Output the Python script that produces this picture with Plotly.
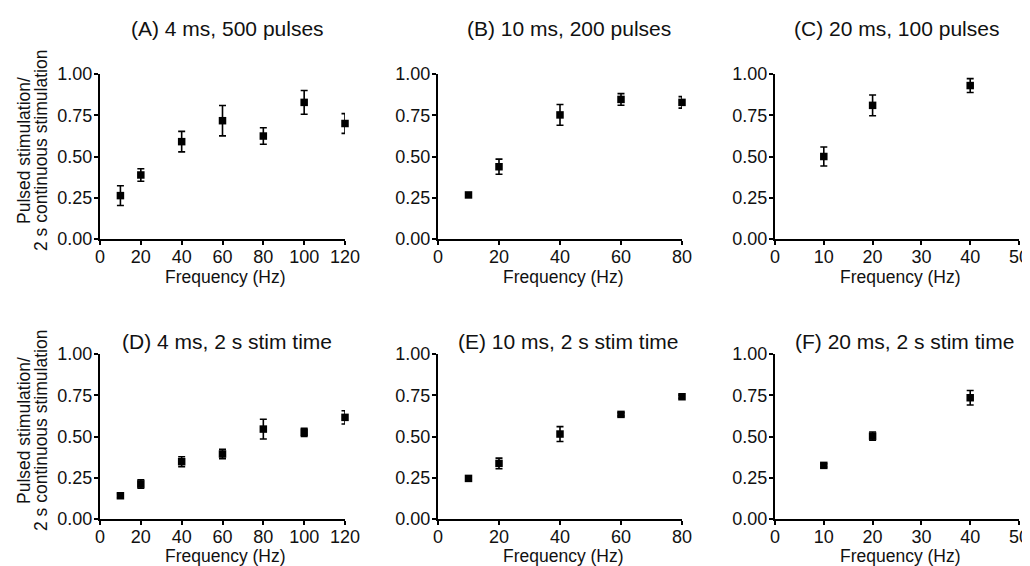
import plotly.graph_objects as go

# The page body has an 8px margin, so the figure is made smaller and
# every reference pixel position is shifted by OFF.
OFF = 8
W, H = 1030 - OFF, 566 - OFF

freq_A = [10, 20, 40, 60, 80, 100, 120]
val_A = [0.263, 0.388, 0.59, 0.717, 0.624, 0.828, 0.70]
err_A = [0.06, 0.038, 0.062, 0.092, 0.05, 0.072, 0.06]

freq_B = [10, 20, 40, 60, 80]
val_B = [0.267, 0.438, 0.752, 0.846, 0.828]
err_B = [0.012, 0.046, 0.063, 0.035, 0.035]

freq_C = [10, 20, 40]
val_C = [0.50, 0.81, 0.93]
err_C = [0.058, 0.063, 0.042]

freq_D = [10, 20, 40, 60, 80, 100, 120]
val_D = [0.141, 0.212, 0.347, 0.394, 0.545, 0.525, 0.616]
err_D = [0.012, 0.025, 0.03, 0.028, 0.06, 0.025, 0.04]

freq_E = [10, 20, 40, 60, 80]
val_E = [0.246, 0.337, 0.515, 0.634, 0.741]
err_E = [0.01, 0.032, 0.045, 0.01, 0.01]

freq_F = [10, 20, 40]
val_F = [0.325, 0.502, 0.735]
err_F = [0.01, 0.025, 0.044]

titles = ["(A) 4 ms, 500 pulses", "(B) 10 ms, 200 pulses", "(C) 20 ms, 100 pulses",
          "(D) 4 ms, 2 s stim time", "(E) 10 ms, 2 s stim time", "(F) 20 ms, 2 s stim time"]
x_max = [120, 80, 50, 120, 80, 50]
x_dtick = [20, 20, 10, 20, 20, 10]
y_ticks = [0, 0.25, 0.5, 0.75, 1.0]
x_title = "Frequency (Hz)"
y_title_1 = "Pulsed stimulation/"
y_title_2 = "2 s continuous stimulation"

series = [(freq_A, val_A, err_A), (freq_B, val_B, err_B), (freq_C, val_C, err_C),
          (freq_D, val_D, err_D), (freq_E, val_E, err_E), (freq_F, val_F, err_F)]

# layout in reference pixels
cols_px = [(100, 345), (438, 682), (775, 1019)]
rows_px = [(74, 239), (354, 519)]
title_cx = [227, 569, 896, 227, 568, 904]
title_cy = [28, 28, 28, 341, 341, 341]
xtitle_cy = [277, 556]

FONT = "Liberation Sans, Arial, sans-serif"
INK = "#111"


def px_x(v):
    return (v - OFF) / W


def px_y(v):
    return 1 - (v - OFF) / H


fig = go.Figure()
layout = dict(
    width=W, height=H, margin=dict(l=0, r=0, t=0, b=0, pad=0),
    paper_bgcolor="white", plot_bgcolor="white", showlegend=False,
    font=dict(family=FONT, color=INK),
)
annotations = []
for i, (fx, fy, fe) in enumerate(series):
    r, c = divmod(i, 3)
    n = i + 1
    xa = "x" if n == 1 else f"x{n}"
    ya = "y" if n == 1 else f"y{n}"
    fig.add_trace(go.Scatter(
        x=fx, y=fy, mode="markers", xaxis=xa, yaxis=ya, cliponaxis=False,
        marker=dict(symbol="square", size=7.5, color="black"),
        error_y=dict(type="data", array=fe, visible=True, color="black",
                     thickness=1.6, width=3.5),
    ))
    l, rr = cols_px[c]
    t, b = rows_px[r]
    layout["xaxis" if n == 1 else f"xaxis{n}"] = dict(
        domain=[px_x(l), px_x(rr)], anchor=ya, range=[0, x_max[i]],
        dtick=x_dtick[i], tick0=0, automargin=False, ticklabelstandoff=-4,
        showgrid=False, zeroline=False, showline=True, linecolor="black", linewidth=2,
        ticks="outside", ticklen=4, tickwidth=1.5, tickcolor="black",
        tickfont=dict(size=18, family=FONT, color=INK),
    )
    layout["yaxis" if n == 1 else f"yaxis{n}"] = dict(
        domain=[px_y(b), px_y(t)], anchor=xa, range=[0, 1], tickvals=y_ticks,
        tickformat=".2f", automargin=False, ticklabelstandoff=-2,
        showgrid=False, zeroline=False, showline=True, linecolor="black", linewidth=2,
        ticks="outside", ticklen=4, tickwidth=1.5, tickcolor="black",
        tickfont=dict(size=18, family=FONT, color=INK),
    )
    annotations.append(dict(
        text=titles[i], xref="paper", yref="paper", x=px_x(title_cx[i]),
        y=px_y(title_cy[i]), xanchor="center", yanchor="middle", showarrow=False,
        font=dict(size=21, family=FONT, color=INK),
    ))
    annotations.append(dict(
        text=x_title, xref="paper", yref="paper", x=px_x((l + rr) / 2 + 3),
        y=px_y(xtitle_cy[r]), xanchor="center", yanchor="middle", showarrow=False,
        font=dict(size=17.5, family=FONT, color=INK),
    ))
    if c == 0:
        cy = 151 if r == 0 else 431
        for txt, cx in ((y_title_1, 24), (y_title_2, 41)):
            annotations.append(dict(
                text=txt, xref="paper", yref="paper", x=px_x(cx), y=px_y(cy),
                xanchor="center", yanchor="middle", textangle=-90, showarrow=False,
                font=dict(size=17.5, family=FONT, color=INK),
            ))

layout["annotations"] = annotations
fig.update_layout(**layout)
fig.write_html("out.html")
